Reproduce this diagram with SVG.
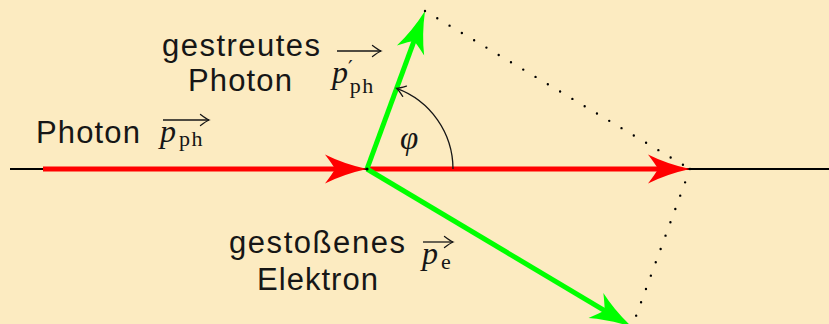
<svg xmlns="http://www.w3.org/2000/svg" width="829" height="324" viewBox="0 0 829 324">
<style>
.lbl{font-family:"Liberation Sans",Arial,sans-serif;font-size:31px;fill:#161616}
.mi{font-family:"Liberation Serif","Times New Roman",serif;font-style:italic;font-size:32px;fill:#161616}
.sub{font-style:normal;font-size:22px;letter-spacing:1.5px}
.pr{font-family:"DejaVu Serif",serif;font-style:normal;font-size:21px}
.phi{font-family:"Liberation Serif","Times New Roman",serif;font-style:italic;font-size:33px;fill:#161616}
.red{stroke:#ff0000;stroke-width:5;fill:none}
.green{stroke:#00ff00;stroke-width:5;fill:none}
.axis{stroke:#000;stroke-width:2;fill:none}
.dots{stroke:#000;stroke-width:2.4;stroke-linecap:round;fill:none}
.thin{stroke:#161616;stroke-width:1.3;fill:none}
</style>
<defs>
<marker id="hRed" markerUnits="userSpaceOnUse" orient="auto" overflow="visible" refX="0" refY="0" markerWidth="1" markerHeight="1">
<path d="M28,0 Q5,-5 -14,-14.5 Q-6,-4 -4,0 Q-6,4 -14,14.5 Q5,5 28,0 Z" fill="#ff0000"/>
</marker>
<marker id="hGreen" markerUnits="userSpaceOnUse" orient="auto" overflow="visible" refX="0" refY="0" markerWidth="1" markerHeight="1">
<path d="M28,0 Q5,-5 -14,-14.5 Q-6,-4 -4,0 Q-6,4 -14,14.5 Q5,5 28,0 Z" fill="#00ff00"/>
</marker>
<marker id="hThin" markerUnits="userSpaceOnUse" orient="auto" overflow="visible" refX="0" refY="0" markerWidth="1" markerHeight="1">
<path d="M-8.5,-5.5 Q-2.5,-1 0,0 Q-2.5,1 -8.5,5.5" fill="none" stroke="#161616" stroke-width="1.3" stroke-linecap="round"/>
</marker>
</defs>
<rect x="0" y="0" width="829" height="324" fill="#fcebc1"/>
<g id="connectors">
<path class="axis" d="M10,169 H829"/>
<path class="red" d="M43,169 H339" marker-end="url(#hRed)"/>
<path class="red" d="M367,169 H662" marker-end="url(#hRed)"/>
<path class="green" d="M367,169 L415.35,37.3" marker-end="url(#hGreen)"/>
<path class="green" d="M367,169 L607.95,312.66" marker-end="url(#hGreen)"/>
<circle cx="367" cy="169" r="1.6" fill="#000"/>
<path class="dots" d="M425,11 L690,169" stroke-dasharray="0 14.3"/>
<path class="dots" d="M690,169 L632,327" stroke-dasharray="0 14.2"/>
<path class="thin" d="M453,169 A86,86 0 0 0 396.6,88.3" marker-end="url(#hThin)"/>
</g>
<g id="photon">
<text class="lbl" x="36" y="143" textLength="104">Photon</text>
<path class="thin" d="M163,120 H209" marker-end="url(#hThin)"/>
<text class="mi" x="160" y="142">p<tspan class="sub" dx="3" dy="4">ph</tspan></text>
</g>
<g id="gestreutes-photon">
<text class="lbl" x="162" y="56" textLength="158">gestreutes</text>
<text class="lbl" x="188" y="91" textLength="104">Photon</text>
<path class="thin" d="M337,51 H381" marker-end="url(#hThin)"/>
<text class="mi" x="332" y="83">p<tspan class="pr" dx="0" dy="-8">′</tspan><tspan class="sub" dx="-3" dy="18">ph</tspan></text>
</g>
<g id="gestossenes-elektron">
<text class="lbl" x="229" y="253" textLength="176">gestoßenes</text>
<text class="lbl" x="257" y="290" textLength="121">Elektron</text>
<path class="thin" d="M423,242 H453" marker-end="url(#hThin)"/>
<text class="mi" x="422" y="264">p<tspan class="sub" dx="3" dy="5">e</tspan></text>
</g>
<g id="winkel">
<text class="phi" x="400" y="149">φ</text>
</g>
</svg>
